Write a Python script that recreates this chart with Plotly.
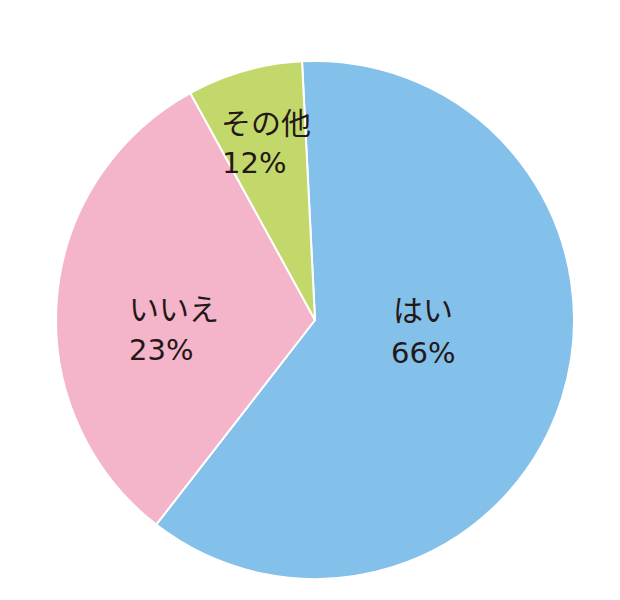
import plotly.graph_objects as go

# Data
categories = ["はい", "いいえ", "その他"]
percent_labels = ["66%", "23%", "12%"]
slice_shares = [61.3, 31.5, 7.2]   # slice sizes as drawn in the picture
colors = ["#83C0EA", "#F4B4C9", "#C3D86A"]

W, H = 620, 600
OFF = 8  # page body margin
cx, cy, r = 315 - OFF, 320 - OFF, 259

fig = go.Figure(go.Pie(
    labels=categories,
    values=slice_shares,
    sort=False,
    direction="clockwise",
    rotation=-2.87,
    marker=dict(colors=colors, line=dict(color="white", width=2)),
    textinfo="none",
    hoverinfo="skip",
    showlegend=False,
    domain=dict(x=[(cx - r) / W, (cx + r) / W],
                y=[(H - cy - r) / H, (H - cy + r) / H]),
))

# label placements (pixel positions of left edge / vertical center)
label_pos = [((391, 308), (389, 353)),
             ((127, 307), (127, 350)),
             ((219, 121), (220, 163))]

font_name = dict(family="Noto Sans CJK JP, sans-serif", size=30, color="#231815")
font_pct = dict(family="DejaVu Sans, sans-serif", size=29, color="#231815")
for cat, pct, ((x1, y1), (x2, y2)) in zip(categories, percent_labels, label_pos):
    fig.add_annotation(x=(x1 - OFF) / W, y=1 - (y1 - OFF) / H, xref="paper", yref="paper",
                       text=cat, showarrow=False, xanchor="left", yanchor="middle",
                       font=font_name)
    fig.add_annotation(x=(x2 - OFF) / W, y=1 - (y2 - OFF) / H, xref="paper", yref="paper",
                       text=pct, showarrow=False, xanchor="left", yanchor="middle",
                       font=font_pct)

fig.update_layout(
    width=W, height=H,
    margin=dict(l=0, r=0, t=0, b=0),
    paper_bgcolor="white",
    plot_bgcolor="white",
    hovermode=False,
)

fig.write_html("out.html")
